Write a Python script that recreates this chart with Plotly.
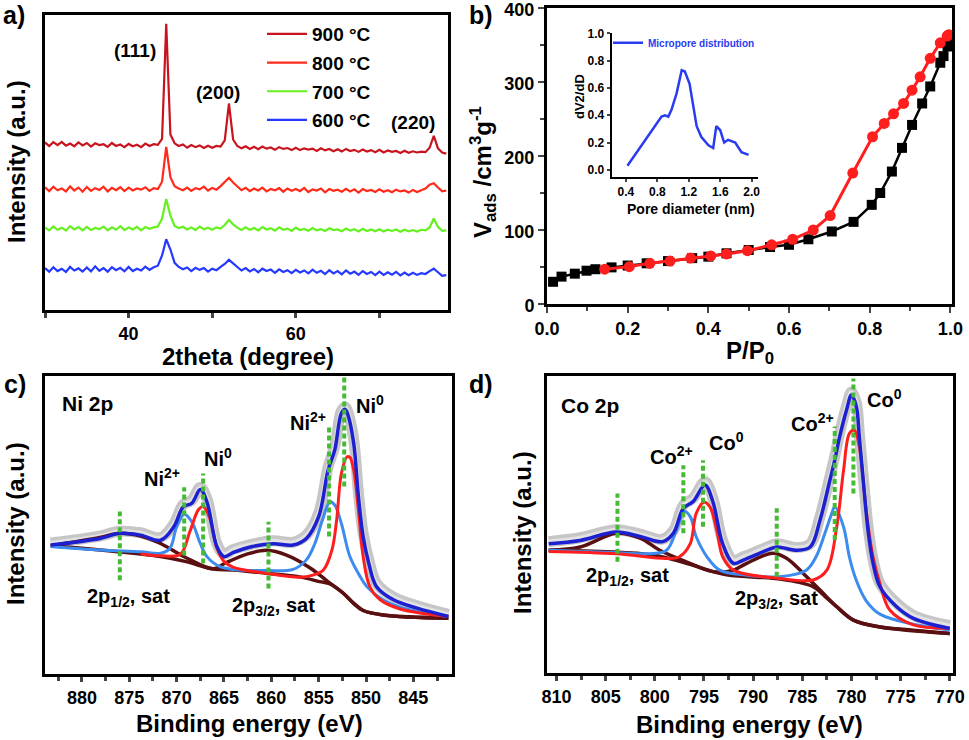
import numpy as np
import plotly.graph_objects as go

# ---------------- a) XRD ----------------
two_theta = np.arange(30, 78.01, 0.5)
xrd_900 = [56.8, 55.6, 56.9, 55.9, 57.0, 55.7, 56.4, 55.5, 56.8, 55.8,
           56.6, 55.4, 56.5, 55.9, 56.2, 55.3, 56.6, 55.6, 56.1, 55.2,
           56.3, 55.5, 56.0, 55.2, 56.4, 55.6, 56.2, 56.0, 58.0, 97.0,
           59.5, 56.5, 55.6, 56.1, 55.0, 55.9, 55.2, 55.8, 54.9, 55.7,
           55.0, 55.6, 55.4, 57.5, 70.0, 57.8, 55.6, 54.8, 55.5, 54.6,
           55.3, 54.5, 55.4, 54.7, 55.1, 54.3, 55.2, 54.6, 54.9, 54.2,
           55.0, 54.2, 54.8, 54.4, 54.7, 53.9, 54.8, 54.1, 54.6, 53.8,
           54.5, 53.7, 54.6, 53.9, 54.3, 53.6, 54.4, 53.7, 54.2, 53.5,
           54.3, 53.4, 54.1, 53.6, 53.9, 53.2, 54.0, 53.3, 53.8, 53.4,
           53.7, 53.5, 55.0, 59.0, 54.8, 53.4, 53.0]
xrd_800 = [41.6, 40.3, 41.8, 40.6, 41.2, 40.2, 41.9, 40.5, 41.5, 40.1,
           41.7, 40.4, 41.3, 40.7, 41.8, 40.2, 41.4, 40.6, 41.6, 40.3,
           41.5, 40.5, 41.2, 40.8, 41.6, 40.4, 41.3, 41.0, 43.5, 55.3,
           45.0, 42.0, 41.2, 40.6, 41.5, 40.4, 41.3, 40.9, 41.8, 40.5,
           41.4, 40.8, 42.0, 43.5, 44.8, 43.2, 41.8, 40.6, 41.4, 40.3,
           41.2, 40.5, 41.5, 40.2, 41.0, 40.6, 41.3, 40.1, 41.2, 40.4,
           41.0, 40.3, 41.4, 40.0, 40.9, 40.5, 41.2, 39.9, 41.0, 40.4,
           40.8, 40.1, 41.1, 40.2, 40.9, 39.8, 41.0, 40.3, 40.7, 40.0,
           40.9, 40.1, 40.6, 39.9, 40.8, 40.2, 40.5, 39.8, 40.7, 40.0,
           40.6, 41.2, 42.5, 43.0, 41.5, 40.2, 40.5]
xrd_700 = [28.0, 27.0, 28.3, 27.2, 27.9, 26.9, 28.4, 27.3, 28.1, 27.0,
           28.2, 27.1, 27.8, 27.4, 28.3, 27.0, 28.0, 27.2, 28.4, 27.1,
           28.0, 27.3, 28.2, 27.0, 28.1, 27.5, 28.0, 28.3, 31.0, 37.6,
           32.0, 28.5, 27.8, 28.2, 27.3, 28.0, 27.1, 28.3, 27.4, 27.9,
           27.2, 28.0, 27.6, 28.8, 30.5, 29.0, 27.9, 27.1, 28.0, 27.2,
           27.8, 27.0, 28.1, 27.3, 27.7, 26.9, 28.0, 27.2, 27.6, 26.8,
           27.9, 27.1, 27.5, 26.9, 27.8, 27.0, 27.4, 26.8, 27.7, 27.1,
           27.3, 26.7, 27.6, 26.9, 27.4, 26.6, 27.5, 26.8, 27.3, 26.7,
           27.4, 26.6, 27.2, 26.8, 27.3, 26.5, 27.2, 26.7, 27.1, 26.6,
           27.2, 27.0, 28.0, 31.0, 28.2, 26.8, 27.0]
xrd_600 = [14.2, 13.0, 14.5, 13.2, 14.0, 12.9, 14.6, 13.4, 14.1, 13.0,
           14.4, 13.1, 14.8, 13.3, 14.2, 13.0, 14.5, 13.5, 14.3, 13.1,
           14.6, 13.2, 14.0, 13.4, 14.7, 13.6, 14.5, 15.0, 18.5, 24.0,
           20.5, 16.0, 14.6, 13.8, 14.4, 13.2, 14.3, 13.6, 14.2, 13.0,
           14.0, 13.5, 14.6, 15.6, 17.0, 15.8, 14.5, 13.4, 14.2, 13.1,
           13.9, 12.8, 14.0, 13.2, 13.7, 12.6, 13.8, 12.9, 13.5, 12.5,
           13.6, 12.7, 13.4, 12.4, 13.7, 12.6, 13.3, 12.2, 13.5, 12.4,
           13.2, 12.1, 13.4, 12.3, 13.0, 11.9, 13.2, 12.2, 12.9, 11.8,
           13.0, 11.9, 12.8, 12.0, 12.9, 11.7, 12.7, 11.8, 12.6, 11.9,
           12.5, 12.2, 13.2, 14.0, 12.8, 11.6, 11.8]
xrd_labels = ["900 °C", "800 °C", "700 °C", "600 °C"]
xrd_colors = ["#c8141e", "#ff2a1a", "#66f020", "#2438ff"]

# ---------------- b) N2 isotherm ----------------
ads_p = [0.015, 0.036, 0.069, 0.098, 0.12, 0.16, 0.2, 0.247, 0.30, 0.36, 0.40, 0.445, 0.50,
         0.553, 0.60, 0.648, 0.706, 0.76, 0.805, 0.826, 0.855, 0.88, 0.905, 0.93, 0.95,
         0.975, 0.983, 0.993, 0.997]
ads_v = [30, 37, 41, 45, 47, 49.5, 52, 55, 58, 62, 64, 68.5, 73,
         77, 80, 87.5, 98, 111, 134, 150, 179, 211, 242, 271, 294,
         326, 335, 348, 358]
des_p = [0.143, 0.204, 0.255, 0.305, 0.356, 0.406, 0.445, 0.497, 0.557, 0.609, 0.66, 0.702,
         0.758, 0.807, 0.836, 0.859, 0.884, 0.905, 0.925, 0.95, 0.975, 0.992, 0.996]
des_v = [47, 50.5, 55, 58, 62, 65, 67.6, 72, 80, 87.5, 100, 119.5,
         177, 226, 244, 257, 271, 289, 307, 332, 353, 362, 364]
pore_d = [0.42, 0.854, 0.897, 0.94, 0.98, 1.045, 1.11, 1.15, 1.21, 1.25, 1.30, 1.36,
          1.45, 1.51, 1.55, 1.60, 1.65, 1.70, 1.79, 1.87, 1.96]
pore_v = [0.03, 0.39, 0.40, 0.39, 0.44, 0.56, 0.73, 0.72, 0.63, 0.49, 0.32, 0.24,
          0.18, 0.16, 0.32, 0.29, 0.20, 0.22, 0.20, 0.13, 0.11]

# ---------------- c) Ni 2p ----------------
ni_env_e = [883.3, 878.1, 876.0, 873.8, 871.7, 870.3, 869.3, 868.4, 867.5, 866.8,
            865.75, 865.0, 864.0, 862.0, 859.8, 857.7, 856.3, 855.0, 854.0, 853.3,
            852.6, 852.2, 851.9, 851.3, 850.8, 850.3, 849.7, 848.9, 847.1, 844.6, 841.3]
ni_env = [43.3, 45.5, 47.2, 46.6, 44.9, 49.4, 56.1, 57.3, 61.9, 57.8,
          42.8, 39.4, 40.8, 42.8, 43.7, 43.3, 45.5, 52.8, 68.5, 75.2,
          87.5, 88.8, 86.9, 77.4, 59.5, 46.1, 37.1, 29.4, 24.9, 22.1, 19.3]
ni_raw = [44.0, 46.3, 47.9, 47.4, 45.8, 50.3, 56.9, 58.3, 62.6, 58.9,
          43.7, 40.3, 41.8, 43.6, 44.7, 44.2, 46.6, 54.0, 69.5, 76.4,
          88.3, 89.6, 87.8, 78.6, 60.8, 47.2, 38.3, 30.5, 25.8, 22.9, 20.0]
ni_bg_e = [883.3, 878.1, 871.7, 869.0, 866.1, 864.0, 860.5, 857.0, 854.9, 853.8,
           852.4, 851.3, 850.3, 848.2, 841.3]
ni_bg = [43.0, 41.6, 39.4, 37.7, 35.2, 34.9, 33.8, 32.6, 31.0, 30.2,
         27.1, 23.7, 21.3, 19.8, 18.7]
ni_sat_e = [883.3, 878.1, 876.0, 873.8, 871.7, 869.0, 866.1, 865.0, 862.5, 860.5,
            858.4, 855.9, 854.1, 852.4, 851.3, 850.3, 848.2, 841.3]
ni_sat = [43.0, 45.8, 47.2, 46.3, 43.8, 39.0, 35.3, 37.0, 40.3, 41.5,
          39.9, 35.6, 31.2, 27.1, 23.7, 21.3, 19.8, 18.7]
ni2_e = [883.3, 878.1, 873.8, 871.7, 870.7, 870.0, 869.2, 868.4, 867.5, 866.8,
         865.4, 864.0, 860.5, 857.7, 856.3, 855.4, 854.6, 853.8, 853.3, 852.6,
         851.7, 850.6, 849.9, 848.2, 846.4, 844.6, 841.3]
ni2 = [42.8, 41.6, 41.0, 40.5, 42.2, 49.4, 53.6, 51.1, 43.8, 39.4,
       36.0, 35.1, 34.7, 35.1, 38.3, 43.8, 51.7, 57.8, 56.7, 50.5,
       39.4, 32.6, 29.3, 24.9, 22.4, 21.0, 19.3]
ni0_e = [873.8, 871.7, 869.6, 868.6, 867.7, 867.2, 866.5, 865.75, 865.0, 864.0,
         860.5, 857.0, 855.6, 854.5, 853.6, 853.1, 852.6, 852.0, 851.7, 851.3,
         850.8, 850.3, 849.6, 848.5, 846.4, 841.3]
ni0 = [40.3, 39.7, 40.2, 47.8, 55.1, 56.2, 52.3, 42.3, 37.8, 35.8,
       33.8, 32.5, 33.2, 34.9, 41.6, 51.7, 67.3, 72.9, 72.7, 68.5,
       55.0, 39.4, 29.3, 24.9, 21.8, 19.3]
ni_marks_e = [876.0, 869.2, 867.2, 860.3, 853.9, 852.3]
ni_marks_lo = [31.5, 39.8, 37.1, 28.7, 46.1, 62.9]
ni_marks_hi = [54.5, 62.7, 67.3, 51.1, 83.6, 99.5]

# ---------------- d) Co 2p ----------------
co_env_e = [810.8, 807.6, 803.9, 801.5, 799.2, 798.1, 797.1, 796.1, 794.9, 794.1,
            793.1, 792.0, 791.0, 788.6, 787.6, 785.6, 784.2, 783.2, 782.2, 781.7,
            781.2, 780.5, 780.0, 779.5, 779.2, 778.8, 778.3, 777.8, 777.1, 775.4, 773.7, 770.0]
co_env = [43.6, 44.7, 47.5, 46.0, 44.3, 47.2, 55.5, 57.8, 63.3, 57.8,
          43.6, 37.0, 38.1, 41.4, 42.5, 41.4, 42.5, 51.5, 64.9, 71.7,
          79.6, 88.6, 93.6, 89.7, 79.6, 64.9, 47.7, 37.0, 29.1, 22.4, 18.5, 15.1]
co_raw = [44.3, 45.6, 48.3, 46.8, 45.1, 48.1, 56.6, 58.9, 64.4, 58.9,
          44.6, 38.0, 39.2, 42.4, 43.6, 42.3, 43.5, 52.7, 66.0, 72.9,
          80.8, 89.9, 94.6, 90.9, 80.8, 66.2, 49.0, 38.3, 30.2, 23.6, 19.5, 16.0]
co_bg_e = [810.8, 800.2, 796.8, 792.7, 788.0, 785.6, 783.9, 782.7, 781.5, 779.8,
           777.1, 773.7, 770.0]
co_bg = [41.4, 39.8, 37.0, 33.1, 32.0, 30.8, 29.1, 25.9, 22.4, 17.9,
         15.6, 14.5, 13.4]
co_sat_e = [810.8, 807.6, 803.9, 801.5, 799.5, 796.8, 794.1, 792.0, 790.7, 788.0,
            786.6, 784.9, 783.2, 781.5, 779.8, 777.1, 770.0]
co_sat = [41.4, 42.5, 47.1, 45.5, 41.4, 37.5, 34.2, 34.7, 36.9, 40.4,
          38.7, 33.6, 28.0, 22.4, 17.9, 15.6, 13.4]
co2_e = [810.8, 804.2, 800.2, 798.8, 797.8, 797.0, 796.4, 795.8, 794.7, 793.4,
         790.7, 787.3, 784.6, 783.6, 782.7, 782.0, 781.7, 780.8, 780.2, 779.5,
         778.5, 777.1, 773.7, 770.0]
co2 = [41.4, 40.6, 40.3, 41.4, 48.1, 54.4, 52.7, 46.0, 39.2, 34.7,
       33.0, 32.5, 34.7, 39.2, 47.1, 53.8, 56.0, 49.2, 39.0, 31.2,
       24.4, 19.9, 16.5, 14.6]
co0_e = [810.8, 803.9, 798.8, 797.5, 796.4, 795.8, 795.0, 794.4, 793.7, 793.1, 792.0,
         787.3, 783.9, 782.5, 781.5, 780.8, 780.2, 779.7, 779.2, 778.5,
         777.8, 777.1, 776.1, 773.7, 770.0]
co0 = [41.0, 40.2, 38.6, 39.2, 43.6, 53.7, 57.5, 56.0, 48.1, 39.2, 34.7,
       31.9, 31.4, 34.7, 49.2, 68.4, 80.7, 81.8, 76.2, 54.8,
       39.1, 30.2, 21.3, 16.3, 15.2]
co_marks_e = [803.8, 797.1, 795.1, 787.6, 781.7, 779.8]
co_marks_lo = [37.5, 47.1, 49.3, 32.5, 44.8, 60.5]
co_marks_hi = [60.5, 70.0, 71.7, 55.5, 83.0, 99.2]

FONT = "Liberation Sans, Arial, sans-serif"
W, H = 969, 740


def px(x):
    return x / W


def py(y):
    return 1 - y / H


fig = go.Figure()

# a)
for ys, name, col in zip([xrd_900, xrd_800, xrd_700, xrd_600], xrd_labels, xrd_colors):
    fig.add_trace(go.Scatter(x=two_theta, y=ys, mode="lines", name=name, legendgroup=name,
                             line=dict(color=col, width=2.2), xaxis="x", yaxis="y"))

# b)
fig.add_trace(go.Scatter(x=ads_p, y=ads_v, mode="lines+markers", showlegend=False,
                         line=dict(color="black", width=2.5),
                         marker=dict(symbol="square", size=10, color="black"),
                         xaxis="x2", yaxis="y2"))
fig.add_trace(go.Scatter(x=des_p, y=des_v, mode="lines+markers", showlegend=False,
                         line=dict(color="#ff1e1e", width=3),
                         marker=dict(symbol="circle", size=11, color="#ff1e1e"),
                         xaxis="x2", yaxis="y2"))
fig.add_trace(go.Scatter(x=pore_d, y=pore_v, mode="lines", name="Micropore distribution",
                         legend="legend2", line=dict(color="#2a3cf0", width=2.5),
                         xaxis="x3", yaxis="y3"))


def xps(ax, ay, raw_e, raw, bg_e, bg, sat_e, sat, c2_e, c2, c0_e, c0, env_e, env,
        mk_e, mk_lo, mk_hi):
    kw = dict(mode="lines", showlegend=False, xaxis=ax, yaxis=ay, line_shape="spline")
    fig.add_trace(go.Scatter(x=raw_e, y=raw, line=dict(color="#c6c6c6", width=11), **kw))
    fig.add_trace(go.Scatter(x=raw_e, y=raw, line=dict(color="#e2e2e2", width=4), **kw))
    fig.add_trace(go.Scatter(x=bg_e, y=bg, line=dict(color="#5a1010", width=3.5), **kw))
    fig.add_trace(go.Scatter(x=sat_e, y=sat, line=dict(color="#5a1010", width=3.5), **kw))
    fig.add_trace(go.Scatter(x=c2_e, y=c2, line=dict(color="#3c8cf0", width=3), **kw))
    fig.add_trace(go.Scatter(x=c0_e, y=c0, line=dict(color="#ff1e1e", width=3), **kw))
    fig.add_trace(go.Scatter(x=env_e, y=env, line=dict(color="#1c20d0", width=3.5), **kw))
    xs, ys = [], []
    for e, lo, hi in zip(mk_e, mk_lo, mk_hi):
        xs += [e, e, None]
        ys += [lo, hi, None]
    fig.add_trace(go.Scatter(x=xs, y=ys, mode="lines", showlegend=False, xaxis=ax, yaxis=ay,
                             line=dict(color="#44bb33", width=4, dash="5px,3px")))


xps("x4", "y4", ni_env_e, ni_raw, ni_bg_e, ni_bg, ni_sat_e, ni_sat, ni2_e, ni2,
    ni0_e, ni0, ni_env_e, ni_env, ni_marks_e, ni_marks_lo, ni_marks_hi)
xps("x5", "y5", co_env_e, co_raw, co_bg_e, co_bg, co_sat_e, co_sat, co2_e, co2,
    co0_e, co0, co_env_e, co_env, co_marks_e, co_marks_lo, co_marks_hi)

tickf = dict(family=FONT, size=18, color="black", weight="bold")
frame = dict(showline=True, linecolor="black", linewidth=3, mirror=True, automargin=False,
             showgrid=False, zeroline=False, tickfont=tickf, ticklabeloverflow="allow")
inset = dict(showline=True, linecolor="black", linewidth=2, showgrid=False, automargin=False,
             zeroline=False, ticks="outside", ticklen=3, tickwidth=1.5, tickformat=".1f",
             ticklabeloverflow="allow",
             tickfont=dict(family=FONT, size=12, color="black", weight="bold"))

fig.update_layout(
    width=W, height=H, margin=dict(l=0, r=0, t=0, b=0, autoexpand=False),
    paper_bgcolor="white", plot_bgcolor="white",
    font=dict(family=FONT, color="black"),
    xaxis=dict(domain=[px(45), px(448)], range=[30, 78.2], anchor="y",
               tick0=0, dtick=20, ticks="outside", ticklen=5, tickwidth=2.5,
               minor=dict(tick0=0, dtick=10, ticks="outside", ticklen=5, tickwidth=2.5),
               **frame),
    yaxis=dict(domain=[py(310), py(15)], range=[0, 100], anchor="x",
               showticklabels=False, ticks="", **frame),
    xaxis2=dict(domain=[px(547), px(952)], range=[0, 1.004], anchor="y2",
                dtick=0.2, tickformat=".1f", ticks="outside", ticklen=6, tickwidth=2,
                minor=dict(dtick=0.1, ticks="outside", ticklen=4, tickwidth=2),
                **frame),
    yaxis2=dict(domain=[py(304), py(8)], range=[0, 400], anchor="x2",
                dtick=100, ticks="outside", ticklen=6, tickwidth=2, ticklabelshift=2,
                minor=dict(dtick=50, ticks="outside", ticklen=4, tickwidth=2),
                **frame),
    xaxis3=dict(domain=[px(611.7), px(758)], range=[0.22, 2.08], anchor="y3",
                tickvals=[0.4, 0.8, 1.2, 1.6, 2.0], **inset),
    yaxis3=dict(domain=[py(176.7), py(33.3)], range=[-0.05, 1.0], anchor="x3",
                tickvals=[0, 0.2, 0.4, 0.6, 0.8, 1.0], **inset),
    xaxis4=dict(domain=[px(45), px(451.7)], range=[883.9, 840.95], anchor="y4",
                tick0=880, dtick=5, ticks="outside", ticklen=5, tickwidth=2.5,
                minor=dict(tick0=880, dtick=2.5, ticks="outside", ticklen=4, tickwidth=2.5),
                **frame),
    yaxis4=dict(domain=[py(674), py(376)], range=[0, 100], anchor="x4",
                showticklabels=False, ticks="", **frame),
    xaxis5=dict(domain=[px(546.7), px(952.7)], range=[811.0, 769.7], anchor="y5",
                tick0=810, dtick=5, ticks="outside", ticklen=5, tickwidth=2.5,
                minor=dict(tick0=810, dtick=2.5, ticks="outside", ticklen=4, tickwidth=2.5),
                **frame),
    yaxis5=dict(domain=[py(673.3), py(376)], range=[0, 100], anchor="x5",
                showticklabels=False, ticks="", **frame),
    legend=dict(x=px(262), y=py(15), xanchor="left", yanchor="top", itemwidth=40,
                bgcolor="rgba(0,0,0,0)", tracegroupgap=1, traceorder="grouped",
                font=dict(family=FONT, size=19, color="black", weight="bold")),
    legend2=dict(x=px(608), y=py(42.7), xanchor="left", yanchor="middle",
                 bgcolor="rgba(0,0,0,0)",
                 font=dict(family=FONT, size=10, color="#2a3cf0", weight="bold")),
)

annots = []


def txt(x, y, s, size=20, xref="paper", yref="paper", angle=0, xanchor="center", color="black"):
    annots.append(dict(x=x, y=y, xref=xref, yref=yref, text=s, showarrow=False,
                       textangle=angle, xanchor=xanchor, yanchor="middle",
                       font=dict(family=FONT, size=size, color=color, weight="bold")))


# panel letters
txt(px(14), py(15), "a)", 25)
txt(px(481), py(15), "b)", 25)
txt(px(15), py(384), "c)", 25)
txt(px(481), py(384), "d)", 25)

# axis titles
txt(px(16), py(162), "Intensity (a.u.)", 24, angle=-90)
txt(px(248), py(356), "2theta (degree)", 24)
txt(px(483), py(172), "V<sub>ads</sub> /cm<sup>3</sup>g<sup>-1</sup>", 24, angle=-90)
txt(px(750), py(352), "P/P<sub>0</sub>", 24)
txt(px(579), py(97), "dV2/dD", 13, angle=-90)
txt(px(691), py(209), "Pore diameter (nm)", 14)
txt(px(15), py(524), "Intensity (a.u.)", 24, angle=-90)
txt(px(249), py(723), "Binding energy (eV)", 24)
txt(px(522), py(533), "Intensity (a.u.)", 24, angle=-90)
txt(px(749), py(724), "Binding energy (eV)", 24)

# a) peak labels
txt(40.8, 88.1, "(111)", 19, "x", "y")
txt(50.7, 73.7, "(200)", 19, "x", "y")
txt(74.0, 63.5, "(220)", 19, "x", "y")

# c) labels
txt(882.3, 90.9, "Ni 2p", 21, "x4", "y4", xanchor="left")
txt(871.5, 65.8, "Ni<sup>2+</sup>", 20, "x4", "y4")
txt(865.6, 72.8, "Ni<sup>0</sup>", 20, "x4", "y4")
txt(856.1, 84.6, "Ni<sup>2+</sup>", 20, "x4", "y4")
txt(849.6, 90.3, "Ni<sup>0</sup>", 20, "x4", "y4")
txt(875.1, 25.8, "2p<sub>1/2</sub>, sat", 20, "x4", "y4")
txt(859.8, 22.5, "2p<sub>3/2</sub>, sat", 20, "x4", "y4")

# d) labels
txt(809.7, 90.2, "Co 2p", 21, "x5", "y5", xanchor="left")
txt(798.3, 73.4, "Co<sup>2+</sup>", 20, "x5", "y5")
txt(792.7, 77.9, "Co<sup>0</sup>", 20, "x5", "y5")
txt(784.0, 84.2, "Co<sup>2+</sup>", 20, "x5", "y5")
txt(776.6, 92.6, "Co<sup>0</sup>", 20, "x5", "y5")
txt(802.8, 32.4, "2p<sub>1/2</sub>, sat", 20, "x5", "y5")
txt(787.6, 24.7, "2p<sub>3/2</sub>, sat", 20, "x5", "y5")

fig.update_layout(annotations=annots)
# the page body has a default margin that would shift the figure
fig.write_html("out.html", config={"displayModeBar": False},
               post_script="document.body.style.margin='0px';")
